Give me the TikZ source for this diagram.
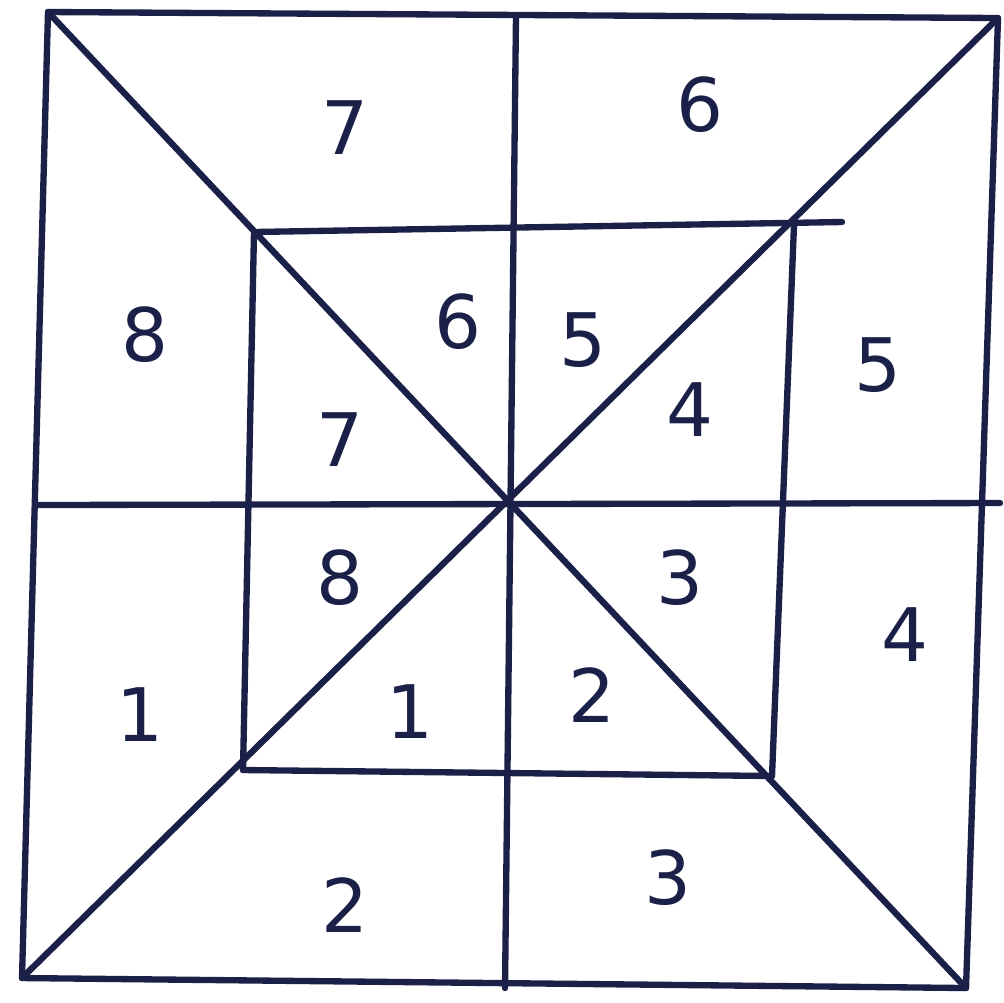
\documentclass[tikz,border=0pt]{standalone}
\usepackage{fontspec}
\setmainfont{DejaVu Sans}
\definecolor{ink}{HTML}{1B2048}
\begin{document}
\begin{tikzpicture}[x=0.01cm,y=-0.01cm,
  ln/.style={draw=ink,line width=1.8pt,line cap=round,line join=round},
  num/.style={text=ink,font=\fontsize{21}{24}\selectfont,inner sep=0pt}]
\useasboundingbox (0,0) rectangle (1004,1002);
% outer square corners
\coordinate (A) at (48,12);
\coordinate (B) at (998,18);
\coordinate (C) at (966,988);
\coordinate (D) at (22,978);
\coordinate (O) at (508,505);
% mid points
\coordinate (T) at (516,15);
\coordinate (Bm) at (505,988);
\coordinate (L) at (38,505);
\coordinate (R) at (1000,503);
% inner square
\coordinate (P) at (254,232);
\coordinate (Q) at (794,225);
\coordinate (Qx) at (842,222);
\coordinate (S) at (772,776);
\coordinate (U) at (243,770);
\draw[ln] (A) -- (B) -- (C) -- (D) -- cycle;
\draw[ln] (A) -- (C);
\draw[ln] (D) -- (B);
\draw[ln] (T) -- (Bm);
\draw[ln] (L) -- (R);
\draw[ln] (P) -- (Qx);
\draw[ln] (Q) -- (S);
\draw[ln] (S) -- (U);
\draw[ln] (U) -- (P);
% labels
\node[num] (n7a) at (345,128) {7};
\node[num] (n6a) at (700,105) {6};
\node[num] (n8a) at (145,335) {8};
\node[num] (n6b) at (458,322) {6};
\node[num] (n5b) at (583,340) {5};
\node[num] (n5a) at (878,365) {5};
\node[num] (n7b) at (340,440) {7};
\node[num] (n4b) at (690,410) {4};
\node[num] (n8b) at (340,578) {8};
\node[num] (n3b) at (680,578) {3};
\node[num] (n4a) at (905,635) {4};
\node[num] (n1a) at (140,715) {1};
\node[num] (n1b) at (410,712) {1};
\node[num] (n2b) at (592,695) {2};
\node[num] (n2a) at (345,905) {2};
\node[num] (n3a) at (668,878) {3};
\end{tikzpicture}
\end{document}
